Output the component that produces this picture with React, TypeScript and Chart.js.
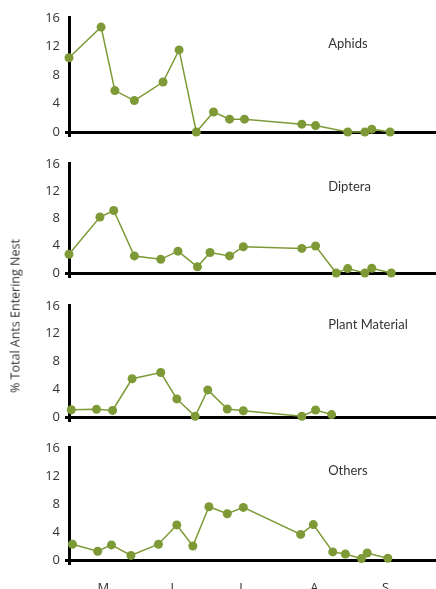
import React, { useEffect, useRef } from "react";
import { Chart, registerables } from "chart.js";

Chart.register(...registerables);

// ---- data (x = day of year, y = % total ants entering nest) ----
const monthTickDays = [135, 165, 195, 227, 258];
const monthTickLabels = ["M", "J", "J", "A", "S"];
const yTickValues = [0, 4, 8, 12, 16];

const aphidsDays = [120, 134, 140, 148.5, 161, 168, 175.5, 183, 190, 196.5, 221.5, 227.5, 241.5, 249, 252, 260];
const aphidsValues = [10.4, 14.7, 5.8, 4.4, 7.0, 11.5, 0, 2.8, 1.8, 1.8, 1.1, 0.9, 0, 0, 0.4, 0];

const dipteraDays = [120, 133.5, 139.5, 148.5, 160, 167.5, 176, 181.5, 190, 196, 221.5, 227.5, 236.5, 241.5, 249, 252, 260.5];
const dipteraValues = [2.75, 8.2, 9.15, 2.5, 2.0, 3.2, 0.9, 3.0, 2.5, 3.85, 3.6, 3.95, 0, 0.65, 0, 0.7, 0];

const plantDays = [121, 132, 139, 147.5, 160, 167, 175, 180.5, 189, 196, 221.5, 227.5, 234.5];
const plantValues = [1.05, 1.1, 0.95, 5.5, 6.4, 2.6, 0.1, 3.9, 1.15, 0.9, 0.1, 1.0, 0.35];

const othersDays = [121.5, 132.5, 138.5, 147, 159, 167, 174, 181, 189, 196, 221, 226.5, 235, 240.5, 247.5, 250, 259];
const othersValues = [2.25, 1.25, 2.15, 0.65, 2.25, 5.0, 2.0, 7.6, 6.6, 7.5, 3.65, 5.05, 1.15, 0.85, 0.2, 1.0, 0.25];

const panelTitles = ["Aphids", "Diptera", "Plant Material", "Others"];
const yAxisTitle = "% Total Ants Entering Nest";

const X_MIN = 120;
const X_MAX = 280;
const LINE_COLOR = "#7d9a36";
const TEXT_COLOR = "#333333";

const panelTitlePlugin = {
  id: "panelTitle",
  afterDatasetsDraw(chart: any, _args: any, opts: any) {
    const { ctx, scales } = chart;
    const x = scales.x;
    const y = scales.y;
    ctx.save();
    ctx.font = "13px Lato, 'Open Sans', sans-serif";
    ctx.fillStyle = TEXT_COLOR;
    ctx.textAlign = "left";
    ctx.textBaseline = "middle";
    ctx.fillText(opts.text, x.getPixelForValue(opts.day), y.getPixelForValue(opts.value));
    ctx.restore();
  },
};

type PanelProps = {
  days: number[];
  values: number[];
  title: string;
  titleValue: number;
  top: number;
  plotHeight: number;
  axisHeight: number;
  showMonths: boolean;
};

const PAD_TOP = 12;

function Panel({ days, values, title, titleValue, top, plotHeight, axisHeight, showMonths }: PanelProps) {
  const ref = useRef<HTMLCanvasElement | null>(null);
  const height = PAD_TOP + plotHeight + axisHeight;

  useEffect(() => {
    if (!ref.current) return;
    const chart = new Chart(ref.current, {
      type: "line",
      data: {
        datasets: [
          {
            data: days.map((d, i) => ({ x: d, y: values[i] })),
            borderColor: LINE_COLOR,
            backgroundColor: LINE_COLOR,
            borderWidth: 1.5,
            pointRadius: 4.5,
            pointBorderWidth: 0,
            pointBackgroundColor: LINE_COLOR,
            tension: 0,
            clip: false as any,
          },
        ],
      },
      options: {
        animation: false,
        responsive: false,
        events: [],
        layout: { autoPadding: false, padding: { top: PAD_TOP, left: 0, right: 0, bottom: 0 } },
        plugins: {
          legend: { display: false },
          tooltip: { enabled: false },
          title: { display: false },
          panelTitle: { text: title, day: 233, value: titleValue },
        } as any,
        scales: {
          x: {
            type: "linear",
            min: X_MIN,
            max: X_MAX,
            afterBuildTicks: (scale: any) => {
              scale.ticks = [X_MIN, ...monthTickDays].map((v) => ({ value: v }));
            },
            afterFit: (scale: any) => {
              scale.height = axisHeight;
            },
            grid: {
              drawOnChartArea: false,
              drawTicks: true,
              tickLength: 5,
              tickWidth: 3,
              tickColor: (ctx: any) => (ctx.tick && ctx.tick.value === X_MIN ? "#000" : "rgba(0,0,0,0)"),
            },
            border: { display: true, color: "#000", width: 3 },
            ticks: {
              autoSkip: false,
              maxRotation: 0,
              padding: 15,
              color: TEXT_COLOR,
              font: { family: "'Open Sans', sans-serif", size: 13 },
              callback: (v: any) => {
                if (!showMonths) return "";
                const i = monthTickDays.indexOf(Number(v));
                return i >= 0 ? monthTickLabels[i] : "";
              },
            },
          },
          y: {
            type: "linear",
            min: 0,
            max: 16,
            afterBuildTicks: (scale: any) => {
              scale.ticks = yTickValues.map((v) => ({ value: v }));
            },
            afterFit: (scale: any) => {
              scale.width = 69;
            },
            grid: {
              drawOnChartArea: false,
              drawTicks: true,
              tickLength: 4,
              tickWidth: 3,
              tickColor: (ctx: any) => (ctx.tick && ctx.tick.value === 0 ? "#000" : "rgba(0,0,0,0)"),
            },
            border: { display: true, color: "#000", width: 3 },
            ticks: {
              padding: 5,
              color: TEXT_COLOR,
              font: { family: "'Open Sans', sans-serif", size: 13 },
            },
          },
        },
      },
      plugins: [panelTitlePlugin],
    });
    return () => chart.destroy();
  }, [days, values, title, titleValue, plotHeight, axisHeight, showMonths]);

  return (
    <canvas
      ref={ref}
      width={436}
      height={height}
      style={{ position: "absolute", left: 0, top: top - PAD_TOP, width: 436, height }}
    />
  );
}

export default function App() {
  return (
    <div
      style={{
        position: "fixed",
        left: 0,
        top: 0,
        width: 436,
        height: 589,
        overflow: "hidden",
        background: "#fff",
      }}
    >
      <Panel days={aphidsDays} values={aphidsValues} title={panelTitles[0]} titleValue={12.4} top={17} plotHeight={115} axisHeight={14} showMonths={false} />
      <Panel days={dipteraDays} values={dipteraValues} title={panelTitles[1]} titleValue={12.6} top={163} plotHeight={110} axisHeight={14} showMonths={false} />
      <Panel days={plantDays} values={plantValues} title={panelTitles[2]} titleValue={13.2} top={305} plotHeight={112} axisHeight={14} showMonths={false} />
      <Panel days={othersDays} values={othersValues} title={panelTitles[3]} titleValue={12.7} top={447} plotHeight={113} axisHeight={50} showMonths={true} />
      <div
        style={{
          position: "absolute",
          left: 15,
          top: 316,
          transform: "translate(-50%, -50%) rotate(-90deg)",
          whiteSpace: "nowrap",
          fontFamily: "'Open Sans', sans-serif",
          fontSize: 12.5,
          color: TEXT_COLOR,
        }}
      >
        {yAxisTitle}
      </div>
    </div>
  );
}
